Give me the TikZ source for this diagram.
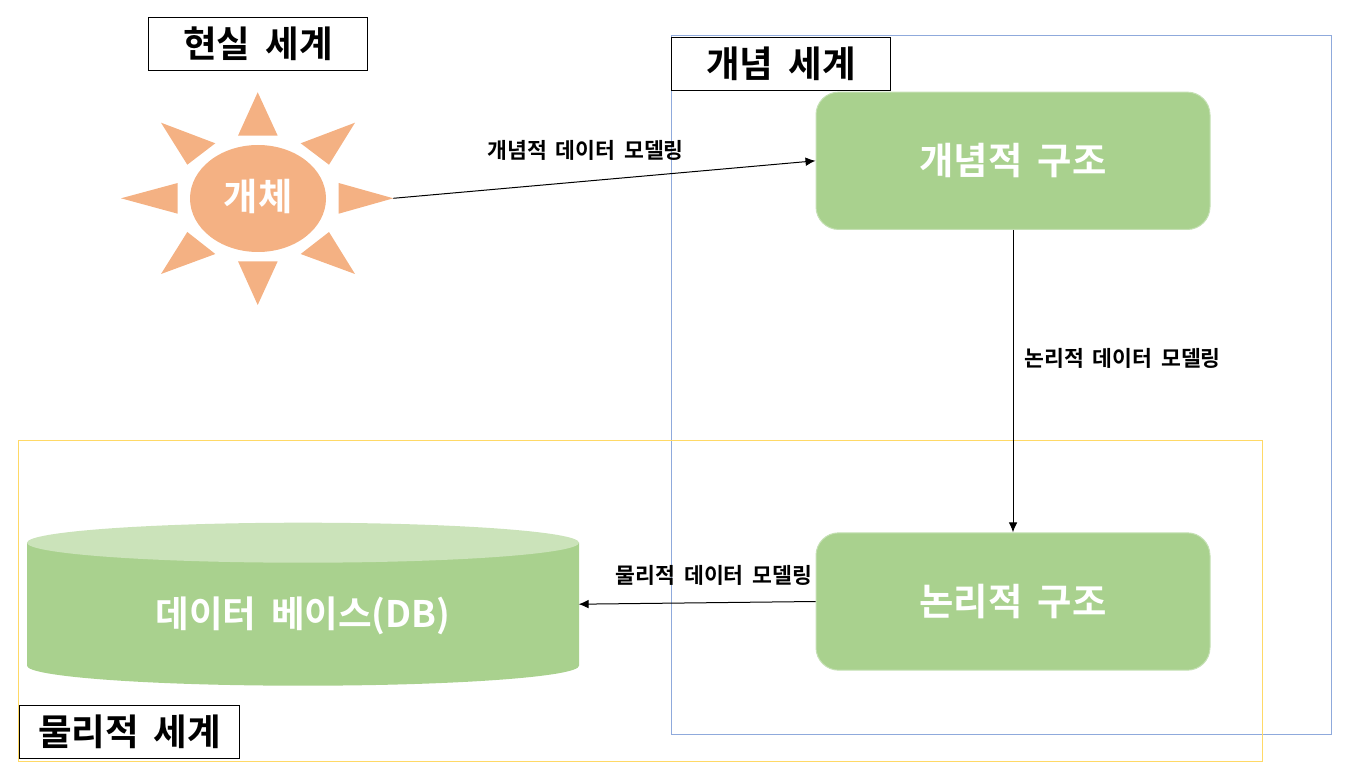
\documentclass[tikz,border=0pt]{standalone}
\usepackage{fontspec}
\setmainfont{Noto Sans CJK KR}[BoldFont=* Bold,WordSpace=1.8]
\usetikzlibrary{arrows.meta}
\definecolor{leaf}{HTML}{A9D18E}
\definecolor{leaftop}{HTML}{CBE3BA}
\definecolor{leafedge}{HTML}{C5E0B4}
\definecolor{sunc}{HTML}{F4B183}
\definecolor{frameblue}{HTML}{8FAADC}
\definecolor{frameyellow}{HTML}{FFD966}
\tikzset{
  x=0.75pt,y=-0.75pt,
  titlebox/.style={draw=black,line width=0.75pt,fill=white,inner sep=0pt,font=\fontsize{27.4}{27.4}\selectfont\bfseries},
  structbox/.style={draw=leafedge,line width=0.75pt,fill=leaf,rounded corners=17pt,minimum width=295.5pt,minimum height=103pt,inner sep=0pt,text=white,font=\fontsize{28}{28}\selectfont\bfseries},
  ray/.style={fill=sunc,draw=none},
  flow/.style={draw=black,line width=0.75pt,-{Latex[length=7.5pt,width=6.5pt]}},
  flowlabel/.style={inner sep=0pt,text=black,font=\fontsize{16.2}{16.2}\selectfont\bfseries},
  frame/.style={line width=0.75pt}
}
\begin{document}
\begin{tikzpicture}
\useasboundingbox (0,0) rectangle (1351,780);
% frames
\draw[frame,frameblue] (671,35.5) rectangle (1331.5,734.5);
\draw[frame,frameyellow] (18,440.5) rectangle (1262.5,761.5);
% title boxes
\node[titlebox,minimum width=164.5pt,minimum height=40pt] (real) at (258,44) {현실 세계};
\node[titlebox,minimum width=164.5pt,minimum height=40pt] (concept) at (781,64) {개념 세계};
\node[titlebox,minimum width=165.5pt,minimum height=40pt] (phys) at (129.5,732) {물리적 세계};
% sun
\fill[ray] (257.7,92.3) -- (238,135.7) -- (277.7,135.7) -- cycle;
\fill[ray] (355,122.7) -- (300.7,143.3) -- (329,164.7) -- cycle;
\fill[ray] (393.3,198.3) -- (338.7,183) -- (338.7,213.7) -- cycle;
\fill[ray] (355,274) -- (300.7,254) -- (329,232) -- cycle;
\fill[ray] (257.7,305) -- (238,261.3) -- (277.7,261.3) -- cycle;
\fill[ray] (161,274) -- (215.3,254) -- (187.3,232) -- cycle;
\fill[ray] (121,198.3) -- (177.7,183) -- (177.7,213.7) -- cycle;
\fill[ray] (161,122.7) -- (215.3,143.3) -- (187.3,164.7) -- cycle;
\fill[sunc] (258,198.5) ellipse [x radius=68,y radius=53.5];
\node[inner sep=0pt,text=white,font=\fontsize{28}{28}\selectfont\bfseries] (entity) at (258,197) {개체};
\coordinate (suntip) at (393.3,198.3);
% structures
\node[structbox] (cstruct) at (1013,160.8) {개념적 구조};
\node[structbox] (lstruct) at (1013,601.5) {논리적 구조};
% cylinder
\fill[leaf] (27,542.7) -- (27,665.7) arc [start angle=180,end angle=0,x radius=276,y radius=20] -- (579,542.7) -- cycle;
\fill[leaftop] (303,542.7) ellipse [x radius=276,y radius=20];
\node[minimum width=413pt,minimum height=122pt,inner sep=0pt] (db) at (303,604.2) {};
\node[inner sep=0pt,text=white,font=\fontsize{27.4}{27.4}\selectfont\bfseries] (dblabel) at (303,615.5) {데이터 베이스(DB)};
% connectors
\draw[flow] (suntip) -- (cstruct.west);
\draw[flow] (cstruct.south) -- (lstruct.north);
\draw[flow] (lstruct.west) -- (db.east);
% labels
\node[flowlabel] (l1) at (585.5,150) {개념적 데이터 모델링};
\node[flowlabel] (l2) at (1122.5,358.5) {논리적 데이터 모델링};
\node[flowlabel] (l3) at (714,575) {물리적 데이터 모델링};
\end{tikzpicture}
\end{document}
